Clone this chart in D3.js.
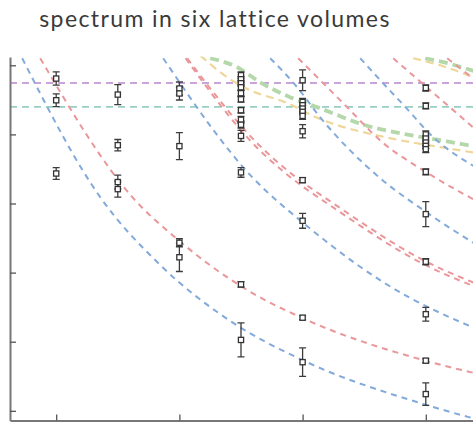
<!DOCTYPE html>
<html>
<head>
<meta charset="utf-8">
<script src="https://cdn.jsdelivr.net/npm/d3@7"></script>
<style>
  body { margin: 0; background: #fff; }
  svg { display: block; }
</style>
</head>
<body>
<script>
// Lattice volumes (L) and the extracted finite-volume energy levels
const volumes = [16, 18, 20, 22, 24, 28];

const levelEnergies = [
  [0.6404, 0.6247, 0.5717],
  [0.6288, 0.5922, 0.5655, 0.5604],
  [0.6332, 0.6296, 0.5915, 0.5216, 0.5111],
  [0.6428, 0.6399, 0.6370, 0.6341, 0.6298, 0.6254, 0.6175, 0.6106, 0.6070, 0.5989, 0.5725, 0.4915, 0.4513],
  [0.6392, 0.6235, 0.6211, 0.6187, 0.6163, 0.6134, 0.6023, 0.5669, 0.5375, 0.4674, 0.4352],
  [0.6336, 0.6206, 0.6000, 0.5970, 0.5941, 0.5917, 0.5893, 0.5729, 0.5423, 0.5079, 0.4699, 0.4363, 0.4121]
];

const levelErrors = [
  [0.0048, 0.0046, 0.0042],
  [0.0072, 0.0041, 0.0050, 0.0058],
  [0.0047, 0.0047, 0.0098, 0.0029, 0.0103],
  [0.0025, 0.0020, 0.0020, 0.0020, 0.0020, 0.0020, 0.0020, 0.0025, 0.0025, 0.0040, 0.0035, 0.0020, 0.0123],
  [0.0075, 0.0025, 0.0020, 0.0020, 0.0020, 0.0025, 0.0048, 0.0018, 0.0054, 0.0015, 0.0103],
  [0.0022, 0.0022, 0.0025, 0.0020, 0.0020, 0.0020, 0.0025, 0.0022, 0.0090, 0.0022, 0.0050, 0.0015, 0.0081]
];

// Non-interacting two-particle energies, sampled as [L, E]
const blueCurves = [
  [[14.896, 0.6551], [17.429, 0.5546], [19.377, 0.5055], [21.747, 0.4636], [23.987, 0.4368], [28.013, 0.4043], [29.8, 0.3930]],
  [[19.474, 0.6551], [22.396, 0.5683], [23.987, 0.5366], [27.494, 0.4816], [28.468, 0.4708], [29.8, 0.4580]],
  [[22.948, 0.6551], [23.825, 0.6341], [24.571, 0.6124], [26.519, 0.5683], [28.013, 0.5438], [29.8, 0.5180]],
  [[25.870, 0.6551], [26.584, 0.6377], [27.494, 0.6160], [28.013, 0.6030], [29.8, 0.5740]]
];

const redCurves = [
  [[15.481, 0.6551], [18.500, 0.5539], [19.961, 0.5236], [22.201, 0.4874], [23.987, 0.4672], [28.013, 0.4361], [29.8, 0.4262]],
  [[20.253, 0.6551], [22.623, 0.5915], [23.500, 0.5741], [25.221, 0.5467], [27.916, 0.5091], [29.8, 0.4905]],
  [[20.200, 0.6551], [22.570, 0.5893], [23.447, 0.5719], [25.168, 0.5445], [27.863, 0.5069], [29.8, 0.4880]],
  [[23.857, 0.6551], [25.383, 0.6211], [26.584, 0.5944], [28.013, 0.5727], [29.8, 0.5500]],
  [[26.942, 0.6551], [29.8, 0.6000]],
  [[28.695, 0.6551], [29.8, 0.6360]]
];

const greenCurves = [
  [[21.000, 0.6551], [21.877, 0.6486], [22.623, 0.6377], [23.597, 0.6269], [24.571, 0.6189], [26.032, 0.6066], [27.169, 0.6009], [28.468, 0.5958], [29.8, 0.5905]],
  [[27.981, 0.6551], [28.800, 0.6510], [29.8, 0.6440]]
];

const yellowCurves = [
  [[20.675, 0.6572], [21.552, 0.6413], [22.299, 0.6319], [23.435, 0.6233], [24.506, 0.6117], [26.682, 0.5980], [28.468, 0.5908], [29.8, 0.5860]],
  [[27.591, 0.6551], [28.468, 0.6500], [29.8, 0.6390]]
];

// Thresholds drawn as horizontal lines
const thresholdValues = [0.6372, 0.6199];
const thresholdColors = ["#c9a3d9", "#98cfc2"];

const yTicks = [0.40, 0.45, 0.50, 0.55, 0.60, 0.65];
const xTicks = [16, 20, 24, 28];

const W = 473, H = 425;
const svg = d3.select("body").append("svg").attr("width", W).attr("height", H);

const x = d3.scaleLinear().domain([14.5, 30]).range([10, 487.4]);
const y = d3.scaleLinear().domain([0.393, 0.656]).range([420.5, 57]);

svg.append("text")
  .attr("x", 215).attr("y", 27)
  .attr("text-anchor", "middle")
  .attr("font-family", "Lato, 'Open Sans', sans-serif")
  .attr("font-size", 23)
  .attr("letter-spacing", 1.4)
  .attr("fill", "#3a3a3a")
  .text("spectrum in six lattice volumes");

svg.append("clipPath").attr("id", "plot-clip")
  .append("rect").attr("x", 10).attr("y", 56.5).attr("width", W - 10).attr("height", 364);

const plot = svg.append("g").attr("clip-path", "url(#plot-clip)");

const line = d3.line().x(d => x(d[0])).y(d => y(d[1])).curve(d3.curveMonotoneX);

// horizontal thresholds
plot.selectAll(".thr").data(thresholdValues).join("line")
  .attr("x1", x.range()[0]).attr("x2", W)
  .attr("y1", d => y(d)).attr("y2", d => y(d))
  .attr("stroke", (d, i) => thresholdColors[i])
  .attr("stroke-width", 1.8)
  .attr("stroke-dasharray", "7,5");

function drawCurves(data, color, width, dash) {
  plot.append("g").selectAll("path").data(data).join("path")
    .attr("d", line)
    .attr("fill", "none")
    .attr("stroke", color)
    .attr("stroke-width", width)
    .attr("stroke-dasharray", dash);
}

drawCurves(yellowCurves, "#efd79c", 2.2, "8,5");
drawCurves(greenCurves, "#b4d8aa", 3.8, "9,5");
drawCurves(redCurves, "#e9979a", 2, "6,5");
drawCurves(blueCurves, "#82aadb", 2, "6,5");

// energy levels with error bars
const pts = [];
volumes.forEach((L, i) => {
  levelEnergies[i].forEach((E, j) => pts.push({ L, E, err: levelErrors[i][j] }));
});

const g = svg.append("g");
const cap = 3.5;
g.selectAll(".eb").data(pts).join("path")
  .attr("d", d => {
    const cx = x(d.L), y0 = y(d.E - d.err), y1 = y(d.E + d.err);
    return `M${cx},${y0}V${y1}M${cx - cap},${y0}H${cx + cap}M${cx - cap},${y1}H${cx + cap}`;
  })
  .attr("stroke", "#3c3c3c").attr("stroke-width", 1.3).attr("fill", "none");

g.selectAll(".pt").data(pts).join("rect")
  .attr("x", d => x(d.L) - 2.6).attr("y", d => y(d.E) - 2.6)
  .attr("width", 5.2).attr("height", 5.2)
  .attr("fill", "#fff").attr("stroke", "#333").attr("stroke-width", 1.3);

// axes
const yAxis = svg.append("g").attr("transform", `translate(${x.range()[0]},0)`)
  .call(d3.axisLeft(y).tickValues(yTicks).tickSize(-6).tickSizeOuter(0).tickFormat(""));
const xAxis = svg.append("g").attr("transform", `translate(0,${y.range()[0]})`)
  .call(d3.axisBottom(x).tickValues(xTicks).tickSize(-6).tickSizeOuter(0).tickFormat(""));
[yAxis, xAxis].forEach(a => {
  a.select(".domain").attr("stroke", "#777").attr("stroke-width", 2);
  a.selectAll(".tick line").attr("stroke", "#555").attr("stroke-width", 1.3);
});
</script>
</body>
</html>
